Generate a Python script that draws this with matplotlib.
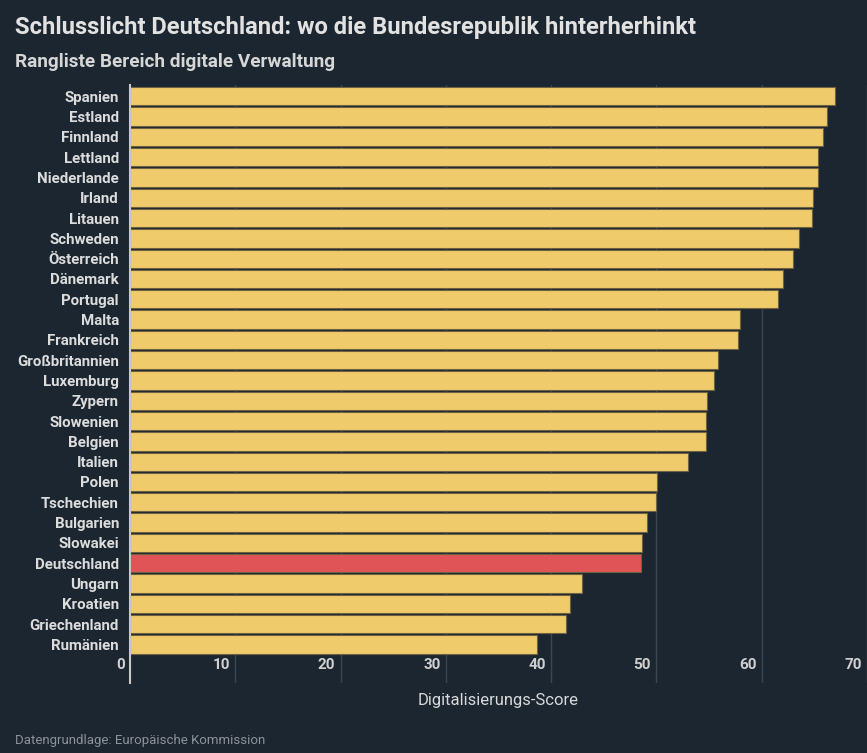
import matplotlib.pyplot as plt
import matplotlib.transforms as mtransforms

plt.rcParams['font.family'] = ['Roboto', 'DejaVu Sans']

# Digitalisierungs-Score, Bereich digitale Verwaltung
laender = ['Spanien', 'Estland', 'Finnland', 'Lettland', 'Niederlande', 'Irland',
           'Litauen', 'Schweden', 'Österreich', 'Dänemark', 'Portugal', 'Malta',
           'Frankreich', 'Großbritannien', 'Luxemburg', 'Zypern', 'Slowenien',
           'Belgien', 'Italien', 'Polen', 'Tschechien', 'Bulgarien', 'Slowakei',
           'Deutschland', 'Ungarn', 'Kroatien', 'Griechenland', 'Rumänien']
scores = [67.0, 66.2, 65.8, 65.35, 65.35, 64.9, 64.8, 63.55, 63.0, 62.0, 61.5, 57.9,
          57.7, 55.8, 55.5, 54.8, 54.7, 54.7, 53.0, 50.1, 50.0, 49.1, 48.6,
          48.5, 42.9, 41.8, 41.4, 38.7]
x_ticks = [0, 10, 20, 30, 40, 50, 60, 70]

bg = '#1b2630'
gelb = '#f0cb6b'
rot = '#e05458'

fig = plt.figure(figsize=(8.67, 7.53), dpi=100, facecolor=bg)
ax = fig.add_axes([0.15, 0.093, 0.85, 0.794])
ax.set_facecolor(bg)

farben = [rot if l == 'Deutschland' else gelb for l in laender]
ax.barh(range(len(laender)), scores, height=0.9, color=farben,
        edgecolor='#6e6240', linewidth=0.8, zorder=3)

ax.set_xlim(0, 70)
ax.set_ylim(28.9, -0.55)
ax.set_yticks(range(len(laender)))
ax.set_yticklabels(laender, fontsize=10.8, fontweight='bold', color='#dcdcdc')
ax.tick_params(axis='y', length=0, pad=8)
ax.set_xticks(x_ticks)
ax.set_xticklabels([])
ax.tick_params(axis='x', length=0)
ax.grid(axis='x', color='#3b4651', linewidth=1, zorder=0)

# Achsenbeschriftungen links neben den Gitterlinien
trans = mtransforms.blended_transform_factory(ax.transData, ax.transAxes)
for t in x_ticks:
    ax.text(t - 0.5, 0.018, str(t), transform=trans, ha='right', va='bottom',
            fontsize=11, fontweight='bold', color='#d0d0d0')

for s in ['top', 'right', 'bottom']:
    ax.spines[s].set_visible(False)
ax.spines['left'].set_color('#c8c8c8')
ax.spines['left'].set_linewidth(1.5)
ax.spines['left'].set_zorder(4)

ax.set_xlabel('Digitalisierungs-Score', fontsize=12, color='#d8d8d8', labelpad=4)

fig.text(0.017, 0.963, 'Schlusslicht Deutschland: wo die Bundesrepublik hinterherhinkt',
         fontsize=17.1, fontweight='bold', color='#e2e2e2', va='center')
fig.text(0.017, 0.918, 'Rangliste Bereich digitale Verwaltung',
         fontsize=13.7, fontweight='bold', color='#d6d6d6', va='center')
fig.text(0.017, 0.016, 'Datengrundlage: Europäische Kommission',
         fontsize=9.5, color='#8c9399', va='center')

fig.savefig('out.png', dpi=100, facecolor=bg)
